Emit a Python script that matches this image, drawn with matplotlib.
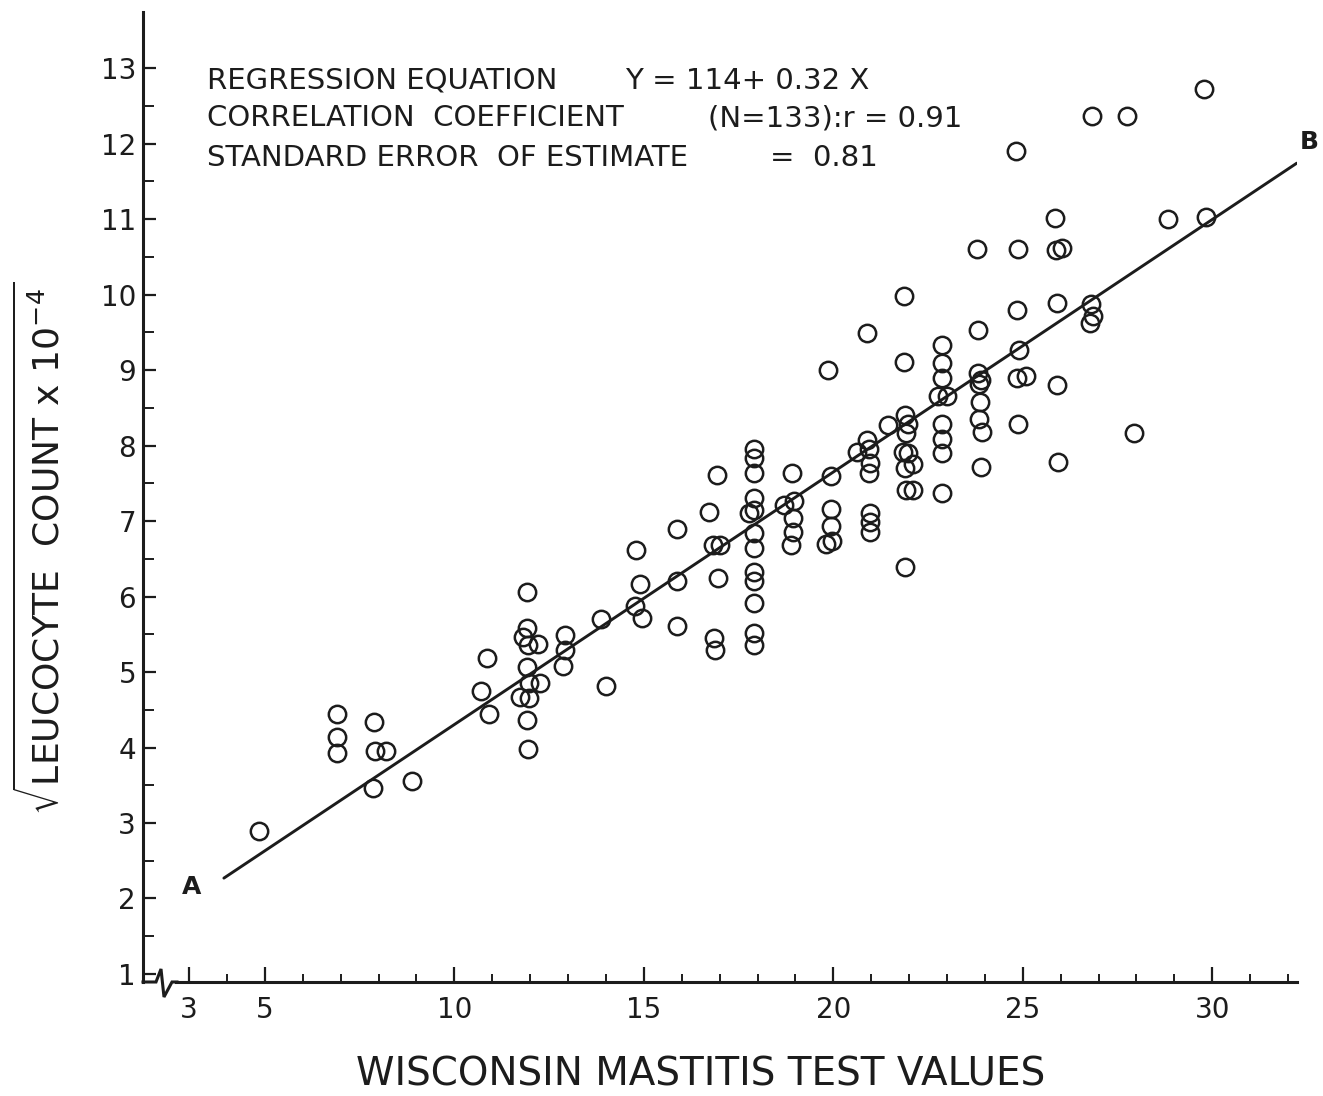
import matplotlib
matplotlib.use("Agg")
import matplotlib.pyplot as plt
import numpy as np

# ---------------- data ----------------
wmt_values = [
    4.85, 6.90, 6.90, 6.90, 7.88, 7.90, 8.19, 7.85, 8.89,
    10.85, 10.70, 10.92,
    11.92, 11.93, 11.80, 12.20, 11.95, 11.93, 12.25, 11.98, 11.73, 11.96, 11.93, 11.95,
    12.92, 12.93, 12.87, 13.88, 13.99,
    14.80, 14.90, 14.77, 14.94, 15.88, 15.88, 15.88,
    16.92, 16.73, 16.83, 17.01, 16.97, 16.85, 16.88,
    17.90, 17.90, 17.90, 17.90, 17.78, 17.90, 17.90, 17.90, 17.90, 17.90, 17.90, 17.90, 17.90,
    18.92, 18.70, 18.96, 18.93, 18.93, 18.88,
    19.87, 19.94, 19.94, 19.94, 19.80, 19.97,
    20.88, 20.88, 20.62, 20.95, 20.97, 20.93, 20.97, 20.97, 20.97,
    21.45,
    21.87, 21.87, 21.89, 21.92, 21.85, 21.97, 21.89, 22.11, 21.92, 22.11, 21.89, 21.98,
    22.86, 22.88, 22.88, 22.77, 22.99, 22.86, 22.86, 22.86, 22.88,
    23.83, 23.78, 23.82, 23.91, 23.85, 23.86, 23.84, 23.93, 23.90,
    24.82, 24.88, 24.84, 24.90, 24.84, 25.08, 24.88,
    25.85, 25.88, 26.04, 25.89, 25.91, 25.94,
    26.82, 26.81, 26.86, 26.76,
    27.76, 27.94, 28.84, 29.79, 29.83,
]
sqrt_leucocyte = [
    2.89, 4.44, 4.14, 3.93, 4.34, 3.95, 3.95, 3.46, 3.55,
    5.18, 4.75, 4.44,
    6.06, 5.58, 5.47, 5.37, 5.36, 5.07, 4.85, 4.85, 4.67, 4.65, 4.36, 3.98,
    5.49, 5.29, 5.08, 5.70, 4.81,
    6.62, 6.17, 5.87, 5.71, 6.21, 5.61, 6.89,
    7.61, 7.12, 6.68, 6.68, 6.24, 5.45, 5.29,
    7.96, 7.83, 7.63, 7.30, 7.10, 7.15, 6.84, 6.64, 6.32, 6.21, 5.92, 5.52, 5.36,
    7.64, 7.21, 7.26, 7.04, 6.86, 6.68,
    9.00, 7.60, 7.16, 6.93, 6.70, 6.73,
    9.49, 8.07, 7.92, 7.95, 7.77, 7.63, 7.10, 6.99, 6.86,
    8.27,
    9.98, 9.11, 8.40, 8.16, 7.92, 7.90, 7.70, 7.76, 7.41, 7.41, 6.39, 8.29,
    9.33, 9.09, 8.89, 8.65, 8.65, 8.29, 8.08, 7.90, 7.37,
    9.53, 10.60, 8.96, 8.87, 8.82, 8.58, 8.35, 8.18, 7.72,
    11.90, 10.60, 9.79, 9.26, 8.90, 8.92, 8.28,
    11.02, 10.59, 10.62, 9.89, 8.80, 7.78,
    12.36, 9.88, 9.71, 9.62,
    12.36, 8.17, 11.00, 12.72, 11.03,
]
line_x = [3.92, 32.23]          # regression line A -> B
line_y = [2.27, 11.74]

x_tick_labels = [3, 5, 10, 15, 20, 25, 30]
x_minor = list(range(3, 33))
y_major = list(range(1, 14))
y_minor = [v + 0.5 for v in range(1, 13)]

annot_lines = [
    ("REGRESSION EQUATION", "Y = 114+ 0.32 X"),
    ("CORRELATION  COEFFICIENT", "(N=133):r = 0.91"),
    ("STANDARD ERROR  OF ESTIMATE", "=  0.81"),
]

# ---------------- figure ----------------
ink = "#1c1c1c"
plt.rcParams["font.family"] = ["DejaVu Sans"]
plt.rcParams["mathtext.fontset"] = "dejavusans"

W, H = 1323, 1096
fig = plt.figure(figsize=(W / 100, H / 100), dpi=100)
fig.patch.set_facecolor("white")
ax = fig.add_axes([143 / W, 1 - 982 / H, (1297 - 143) / W, (982 - 12) / H])
ax.set_xlim(1.786, 32.235)
ax.set_ylim(0.894, 13.742)

ax.plot(wmt_values, sqrt_leucocyte, linestyle="none", marker="o",
        markersize=12.5, markerfacecolor="none", markeredgecolor=ink,
        markeredgewidth=1.8, zorder=3)
ax.plot(line_x, line_y, color=ink, linewidth=2.1, solid_capstyle="round", zorder=2)

ax.annotate("A", (line_x[0], line_y[0]), xytext=(-23, -6.5), textcoords="offset points",
            ha="center", va="center", fontsize=18, fontweight="semibold", color=ink)
ax.annotate("B", (line_x[1], line_y[1]), xytext=(9, 15), textcoords="offset points",
            ha="center", va="center", fontsize=18, fontweight="bold", color=ink,
            annotation_clip=False)

# spines
for s in ("top", "right"):
    ax.spines[s].set_visible(False)
for s in ("left", "bottom"):
    ax.spines[s].set_linewidth(2.2)
    ax.spines[s].set_color(ink)
ax.spines["bottom"].set_bounds(2.66, 32.235)

# axis break zigzag at the origin
zx = np.array([143, 156, 161, 164, 172, 177])
zy = np.array([982, 982, 969, 997, 982, 982])
ax.plot((zx - 143) / 1154, (982 - zy) / 970, transform=ax.transAxes,
        color=ink, linewidth=2.2, clip_on=False, solid_joinstyle="miter")

# ticks
ax.set_yticks(y_major)
ax.set_yticklabels([str(v) for v in y_major])
ax.set_yticks(y_minor, minor=True)
ax.set_xticks(x_tick_labels)
ax.set_xticklabels([str(v) for v in x_tick_labels])
ax.set_xticks([v for v in x_minor if v not in x_tick_labels], minor=True)
ax.tick_params(axis="y", which="major", direction="in", length=9, width=1.6,
               labelsize=20, pad=5, colors=ink)
ax.tick_params(axis="y", which="minor", direction="in", length=8, width=1.4, colors=ink)
ax.tick_params(axis="x", which="major", direction="in", length=11, width=1.6,
               labelsize=20, pad=10, colors=ink)
ax.tick_params(axis="x", which="minor", direction="in", length=6, width=1.4, colors=ink)

# axis titles
fig.text(701 / W, 1 - 1075 / H, "WISCONSIN MASTITIS TEST VALUES", ha="center",
         va="center", fontsize=28, color=ink)
fig.text(40 / W, 1 - 548 / H,
         r"$\sqrt{\mathrm{LEUCOCYTE\ \ COUNT\ x\ 10^{-4}}}$",
         rotation=90, ha="center", va="center", fontsize=26, color=ink)

# annotation block
ys = [81, 118, 158]
xs_b = [625, 708, 770]
for (a, b), yp, xb in zip(annot_lines, ys, xs_b):
    fig.text(207 / W, 1 - yp / H, a, ha="left", va="center", fontsize=21, color=ink)
    fig.text(xb / W, 1 - yp / H, b, ha="left", va="center", fontsize=21, color=ink)

fig.savefig("out.png", dpi=100, facecolor="white")
